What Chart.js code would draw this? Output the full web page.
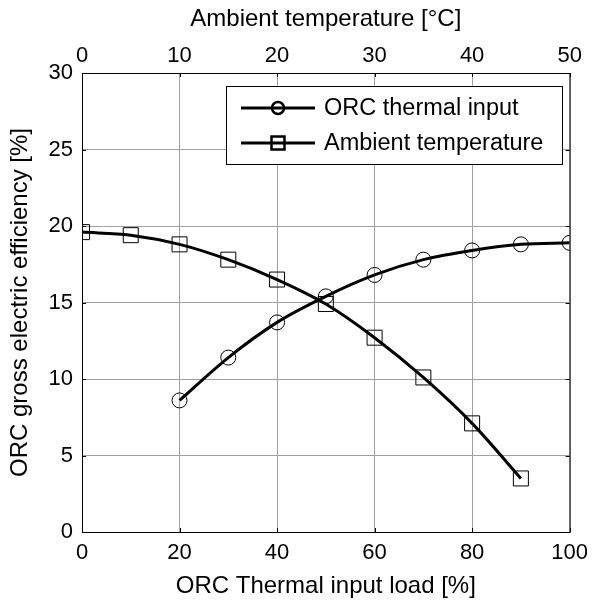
<!DOCTYPE html>
<html>
<head>
<meta charset="utf-8">
<script src="https://cdn.jsdelivr.net/npm/chart.js@4.4.0/dist/chart.umd.min.js"></script>
<style>
  body { margin: 0; background: #fff; }
</style>
</head>
<body>
<canvas id="orc_chart" width="596" height="603"></canvas>
<script>
// values
const thermalLoad = [20, 30, 40, 50, 60, 70, 80, 90, 100];
const thermalEff = [8.6, 11.4, 13.7, 15.4, 16.8, 17.8, 18.4, 18.8, 18.9];
const ambientTemp = [0, 5, 10, 15, 20, 25, 30, 35, 40, 45];
const ambientEff = [19.6, 19.4, 18.8, 17.8, 16.5, 14.9, 12.7, 10.1, 7.1, 3.5];
const seriesNames = ["ORC thermal input", "Ambient temperature"];

const FONT = "'Liberation Sans', Arial, sans-serif";
const GRID = "#a0a0a0";

function pairs(xs, ys) {
  return xs.map((x, i) => ({ x: x, y: ys[i] }));
}

// box around plot, inward ticks, legend with line+marker
const framePlugin = {
  id: "frame",
  afterDatasetsDraw(chart) {
    const { ctx, chartArea: a, scales } = chart;
    ctx.save();
    ctx.strokeStyle = "#000";
    ctx.lineWidth = 1;
    ctx.beginPath();
    ctx.moveTo(a.right + 0.5, a.top);
    ctx.lineTo(a.right + 0.5, a.bottom + 1);
    ctx.stroke();

    const tl = 4;
    ctx.beginPath();
    scales.y.ticks.forEach(t => {
      const py = Math.round(scales.y.getPixelForValue(t.value)) + 0.5;
      ctx.moveTo(a.left, py); ctx.lineTo(a.left + tl, py);
      ctx.moveTo(a.right, py); ctx.lineTo(a.right - tl, py);
    });
    scales.x.ticks.forEach(t => {
      const px = Math.round(scales.x.getPixelForValue(t.value)) + 0.5;
      ctx.moveTo(px, a.bottom); ctx.lineTo(px, a.bottom - tl);
    });
    scales.x2.ticks.forEach(t => {
      const px = Math.round(scales.x2.getPixelForValue(t.value)) + 0.5;
      ctx.moveTo(px, a.top); ctx.lineTo(px, a.top + tl);
    });
    ctx.stroke();

    // legend
    const boxW = 336, boxH = 78;
    const bx = Math.round(a.right - 8 - boxW), by = Math.round(a.top + 13);
    ctx.fillStyle = "#fff";
    ctx.fillRect(bx, by, boxW, boxH);
    ctx.strokeRect(bx + 0.5, by + 0.5, boxW, boxH);
    const rows = [by + 22, by + 57];
    seriesNames.forEach((name, i) => {
      const ry = rows[i];
      ctx.lineWidth = 3;
      ctx.beginPath();
      ctx.moveTo(bx + 15, ry); ctx.lineTo(bx + 89, ry);
      ctx.stroke();
      ctx.lineWidth = 2.5;
      ctx.beginPath();
      if (i === 0) {
        ctx.arc(bx + 52, ry, 6, 0, Math.PI * 2);
      } else {
        ctx.rect(bx + 52 - 6.5, ry - 6.5, 13, 13);
      }
      ctx.stroke();
      ctx.fillStyle = "#000";
      ctx.font = "23.5px " + FONT;
      ctx.textBaseline = "middle";
      ctx.textAlign = "left";
      ctx.fillText(name, bx + 98, ry + 1);
    });
    ctx.restore();
  }
};

const ctx = document.getElementById("orc_chart");
new Chart(ctx, {
  type: "line",
  data: {
    datasets: [
      {
        label: seriesNames[0],
        data: pairs(thermalLoad, thermalEff),
        xAxisID: "x",
        yAxisID: "y",
        borderColor: "#000",
        borderWidth: 3,
        cubicInterpolationMode: "monotone",
        pointStyle: "circle",
        pointRadius: 7.5,
        pointBorderWidth: 1,
        pointBorderColor: "#000",
        pointBackgroundColor: "rgba(0,0,0,0)"
      },
      {
        label: seriesNames[1],
        data: pairs(ambientTemp, ambientEff),
        xAxisID: "x2",
        yAxisID: "y",
        borderColor: "#000",
        borderWidth: 3,
        cubicInterpolationMode: "monotone",
        pointStyle: "rect",
        pointRadius: 10.6,
        pointBorderWidth: 1,
        pointBorderColor: "#000",
        pointBackgroundColor: "rgba(0,0,0,0)"
      }
    ]
  },
  options: {
    responsive: false,
    animation: false,
    layout: { padding: { left: 0, right: 23, top: 0, bottom: 0 } },
    plugins: {
      legend: { display: false },
      tooltip: { enabled: false }
    },
    scales: {
      x: {
        type: "linear",
        position: "bottom",
        min: 0,
        max: 100,
        ticks: { stepSize: 20, color: "#000", padding: 8, font: { family: FONT, size: 22 } },
        grid: { color: GRID, drawTicks: false },
        border: { color: "#000" },
        title: {
          display: true,
          text: "ORC Thermal input load [%]",
          color: "#000",
          font: { family: FONT, size: 24 },
          padding: { top: 0, bottom: 2 }
        },
        afterFit(s) { s.height = 71; }
      },
      x2: {
        type: "linear",
        position: "top",
        min: 0,
        max: 50,
        ticks: { stepSize: 10, color: "#000", padding: 4, font: { family: FONT, size: 22 } },
        grid: { display: false, drawTicks: false },
        border: { color: "#000" },
        title: {
          display: true,
          text: "Ambient temperature [°C]",
          color: "#000",
          font: { family: FONT, size: 24 },
          padding: { top: 5, bottom: 0 }
        },
        afterFit(s) { s.height = 73; }
      },
      y: {
        min: 0,
        max: 30,
        ticks: { stepSize: 5, color: "#000", padding: 9, font: { family: FONT, size: 22 } },
        grid: { color: GRID, drawTicks: false },
        border: { color: "#000" },
        title: {
          display: true,
          text: "ORC gross electric efficiency [%]",
          color: "#000",
          font: { family: FONT, size: 24 },
          padding: { top: 6, bottom: 0 }
        },
        afterFit(s) { s.width = 82; }
      }
    }
  },
  plugins: [framePlugin]
});
</script>
</body>
</html>
